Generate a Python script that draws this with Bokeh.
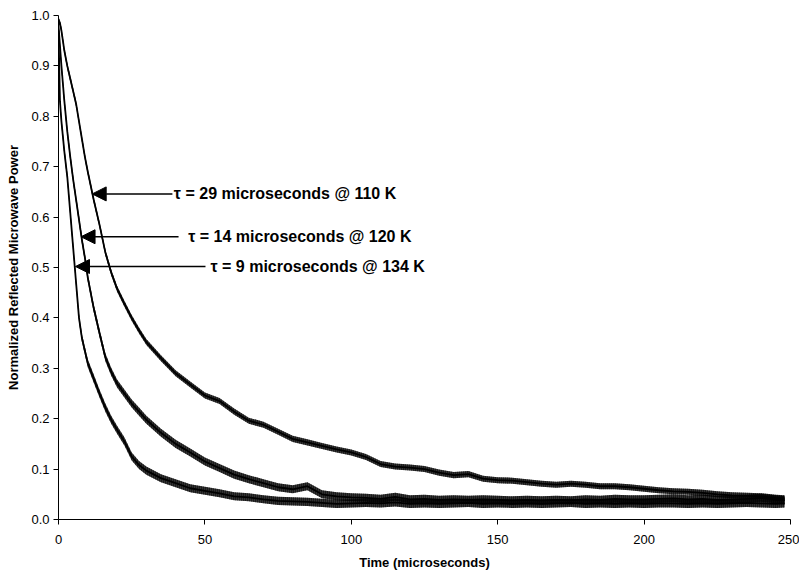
import numpy as np
from bokeh.plotting import figure
from bokeh.models import Range1d, Arrow, NormalHead, PrintfTickFormatter
from bokeh.core.properties import value
from bokeh.embed import file_html
from bokeh.resources import INLINE

# ---- data ----
time_us = [0, 0.5, 1, 1.5, 2, 3, 4, 5, 6, 7, 8, 9, 10, 12, 14, 16, 18, 20, 22.5, 25, 27.5, 30,
           35, 40, 45, 50, 55, 60, 65, 70, 75, 80, 85, 90, 95, 100, 105, 110, 115, 120, 125,
           130, 135, 140, 145, 150, 155, 160, 165, 170, 175, 180, 185, 190, 195, 200, 205,
           210, 215, 220, 225, 230, 235, 240, 245, 248]

power_110K = [0.99, 0.985, 0.97, 0.95, 0.93, 0.90, 0.875, 0.85, 0.825, 0.79, 0.755, 0.72, 0.69,
              0.635, 0.585, 0.53, 0.49, 0.458, 0.428, 0.40, 0.375, 0.352,
              0.32, 0.29, 0.268, 0.246, 0.235, 0.214, 0.196, 0.188, 0.174, 0.16, 0.153, 0.146,
              0.139, 0.133, 0.124, 0.11, 0.105, 0.103, 0.1, 0.093, 0.088, 0.09, 0.081, 0.078,
              0.077, 0.074, 0.071, 0.069, 0.071, 0.069, 0.066, 0.066, 0.064, 0.061, 0.058,
              0.056, 0.055, 0.053, 0.05, 0.048, 0.047, 0.046, 0.043, 0.042]

power_120K = [0.98, 0.94, 0.90, 0.865, 0.83, 0.77, 0.72, 0.675, 0.635, 0.595, 0.555, 0.52, 0.48,
              0.42, 0.37, 0.322, 0.293, 0.27, 0.25, 0.23, 0.214, 0.198,
              0.172, 0.15, 0.133, 0.115, 0.102, 0.089, 0.08, 0.072, 0.064, 0.06, 0.066, 0.05,
              0.046, 0.044, 0.043, 0.041, 0.045, 0.04, 0.041, 0.039, 0.04, 0.039, 0.04, 0.039,
              0.038, 0.039, 0.038, 0.039, 0.038, 0.04, 0.039, 0.041, 0.04, 0.04, 0.041, 0.042,
              0.04, 0.041, 0.039, 0.04, 0.041, 0.043, 0.04, 0.038]

power_134K = [0.97, 0.83, 0.79, 0.76, 0.73, 0.68, 0.61, 0.54, 0.47, 0.40, 0.36, 0.335, 0.31,
              0.28, 0.25, 0.222, 0.198, 0.178, 0.155, 0.125, 0.108, 0.097,
              0.082, 0.072, 0.062, 0.057, 0.052, 0.046, 0.044, 0.04, 0.037, 0.036,
              0.035, 0.033, 0.031, 0.032, 0.033, 0.032, 0.034, 0.031, 0.032, 0.031, 0.032,
              0.033, 0.031, 0.032, 0.031, 0.032, 0.031, 0.032, 0.033, 0.031, 0.032, 0.031,
              0.032, 0.031, 0.032, 0.032, 0.031, 0.032, 0.031, 0.032, 0.033, 0.032, 0.031, 0.032]

# half height of the measurement-noise spikes on each trace
noise_half_height = [0.006, 0.008, 0.008]

x_ticks = [0, 50, 100, 150, 200, 250]
y_ticks = [0.0, 0.1, 0.2, 0.3, 0.4, 0.5, 0.6, 0.7, 0.8, 0.9, 1.0]

ann_labels = ["\u03c4 = 29 microseconds @ 110 K",
              "\u03c4 = 14 microseconds @ 120 K",
              "\u03c4 = 9 microseconds @ 134 K"]
ann_y = [0.646, 0.561, 0.502]
ann_tip_t = [11.5, 7.7, 5.8]
ann_tail_t = [38.9, 41.0, 50.2]
ann_text_t = [39.4, 44.3, 51.9]

# ---- figure ----
FONT = "Liberation Sans"
p = figure(width=799, height=572, x_range=Range1d(0, 250), y_range=Range1d(0, 1.0),
           output_backend="svg", toolbar_location=None,
           min_border_left=58, min_border_right=9, min_border_top=15, min_border_bottom=53)
p.outline_line_color = None
p.xgrid.visible = False
p.ygrid.visible = False
p.background_fill_color = "white"

t = np.array(time_us)
for series, nh in zip((power_110K, power_120K, power_134K), noise_half_height):
    v = np.array(series)
    p.varea(x=t, y1=v - nh, y2=v + nh, fill_color="black", fill_alpha=0.8,
            hatch_pattern="|", hatch_color="black", hatch_weight=1, hatch_scale=2)
    p.line(t, v, line_color="black", line_width=1.8)

for tip, tail, y in zip(ann_tip_t, ann_tail_t, ann_y):
    p.add_layout(Arrow(end=NormalHead(size=14, fill_color="black", line_color="black"),
                       x_start=tail, y_start=y, x_end=tip, y_end=y,
                       line_color="black", line_width=1.5))

p.text(x=ann_text_t, y=ann_y, text=ann_labels, text_font=value(FONT),
       text_font_style="bold", text_font_size="16px", text_baseline="middle",
       text_align="left", text_color="black")

p.xaxis.ticker = x_ticks
p.yaxis.ticker = y_ticks
p.yaxis.formatter = PrintfTickFormatter(format="%.1f")
p.xaxis.axis_label = "Time (microseconds)"
p.yaxis.axis_label = "Normalized Reflected Microwave Power"
for ax in (p.xaxis, p.yaxis):
    ax.axis_line_color = "black"
    ax.axis_line_width = 1
    ax.major_tick_line_color = "black"
    ax.major_tick_out = 5
    ax.major_tick_in = 0
    ax.minor_tick_line_color = None
    ax.major_label_text_font = FONT
    ax.major_label_text_font_size = "13px"
    ax.major_label_text_color = "black"
    ax.axis_label_text_font = FONT
    ax.axis_label_text_font_size = "13px"
    ax.axis_label_text_font_style = "bold"
    ax.axis_label_text_color = "black"
p.xaxis.major_label_standoff = 10
p.xaxis.axis_label_standoff = 8
p.yaxis.major_label_standoff = 4
p.yaxis.axis_label_standoff = 7

open("out.html", "w").write(file_html(p, INLINE))
